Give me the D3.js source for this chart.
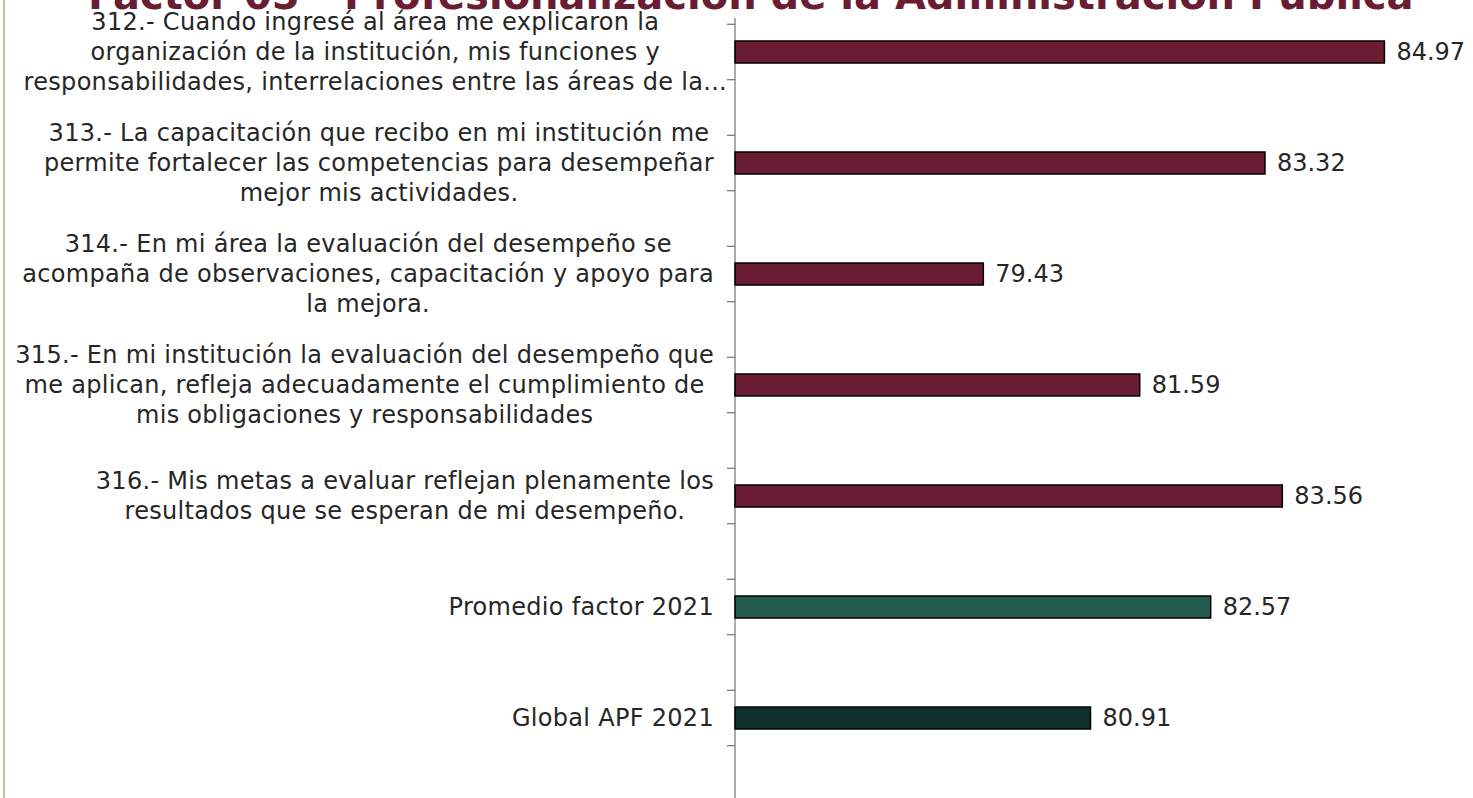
<!DOCTYPE html>
<html>
<meta charset="utf-8">
<title>Factor 05</title>
<style>
    body { margin: 0; background: #fff; }
    svg text { font-family: "DejaVu Sans", sans-serif; }
    .lbl { font-size: 24px; fill: #262626; letter-spacing: 0.3px; }
    .val { font-size: 24px; fill: #262626; }
    .title { font-size: 40px; font-weight: bold; fill: #691c32; }
</style>
<script src="https://cdnjs.cloudflare.com/ajax/libs/d3/7.8.5/d3.min.js"></script>
<body>
<script>
    // data
    const title = "Factor 05 - Profesionalización de la Administración Pública"
    const labels = [
        ["312.- Cuando ingresé al área me explicaron la", "organización de la institución, mis funciones y", "responsabilidades, interrelaciones entre las áreas de la..."],
        ["313.- La capacitación que recibo en mi institución me", "permite fortalecer las competencias para desempeñar", "mejor mis actividades."],
        ["314.- En mi área la evaluación del desempeño se", "acompaña de observaciones, capacitación y apoyo para", "la mejora."],
        ["315.- En mi institución la evaluación del desempeño que", "me aplican, refleja adecuadamente el cumplimiento de", "mis obligaciones y responsabilidades"],
        ["316.- Mis metas a evaluar reflejan plenamente los", "resultados que se esperan de mi desempeño."],
        ["Promedio factor 2021"],
        ["Global APF 2021"]
    ]
    const values = [84.97, 83.32, 79.43, 81.59, 83.56, 82.57, 80.91]
    const colors = ["#691c32", "#691c32", "#691c32", "#691c32", "#691c32", "#235b4e", "#10312b"]

    const W = 1473, H = 798
    const svg = d3.select("body").append("svg").attr("width", W).attr("height", H)

    // gold frame line at the left
    svg.append("line").attr("x1", 4).attr("x2", 4).attr("y1", 0).attr("y2", H)
        .attr("stroke", "#c9a46c").attr("stroke-width", 1.5)

    svg.append("text").attr("class", "title")
        .attr("x", 88).attr("y", 9)
        .text(title)

    const idx = d3.range(values.length)
    const x = d3.scaleLinear().domain([76, 86]).range([735, 1459])
    const y = d3.scaleBand().domain(idx).range([-3.5, 773.5])

    // axis line + ticks at half steps
    const axis = svg.append("g")
    axis.append("line").attr("x1", x(76)).attr("x2", x(76)).attr("y1", 18).attr("y2", H)
        .attr("stroke", "#595959").attr("stroke-width", 1)
    const tickYs = []
    idx.forEach(i => {
        const c = y(i) + y.bandwidth() / 2
        tickYs.push(c - y.step() / 4, c + y.step() / 4)
    })
    axis.selectAll(".tk").data(tickYs).join("line")
        .attr("x1", x(76) - 8).attr("x2", x(76))
        .attr("y1", d => d).attr("y2", d => d)
        .attr("stroke", "#595959")

    const barH = 22
    svg.selectAll(".bar").data(values).join("rect")
        .attr("x", x(76))
        .attr("y", (d, i) => y(i) + y.bandwidth() / 2 - barH / 2)
        .attr("width", d => x(d) - x(76))
        .attr("height", barH)
        .attr("fill", (d, i) => colors[i])
        .attr("stroke", "#000").attr("stroke-width", 1.5)

    svg.selectAll(".val").data(values).join("text")
        .attr("class", "val")
        .attr("x", d => x(d) + 12)
        .attr("y", (d, i) => y(i) + y.bandwidth() / 2)
        .attr("dy", "0.35em")
        .text(d => d.toFixed(2))

    // category labels: block right-aligned, lines centred inside block
    // (the truncated first label spills a bit past the others, as in Excel)
    const lineH = 30
    labels.forEach((lines, i) => {
        const rightEdge = i === 0 ? 727 : 714
        const g = svg.append("g")
        const c = y(i) + y.bandwidth() / 2
        const ts = g.selectAll("text").data(lines).join("text")
            .attr("class", "lbl")
            .attr("text-anchor", "middle")
            .attr("y", (d, j) => c + (j - (lines.length - 1) / 2) * lineH)
            .attr("dy", "0.35em")
            .text(d => d)
        let maxW = 0
        ts.each(function () { maxW = Math.max(maxW, this.getComputedTextLength()) })
        ts.attr("x", rightEdge - maxW / 2)
    })
</script>
</body>
</html>
